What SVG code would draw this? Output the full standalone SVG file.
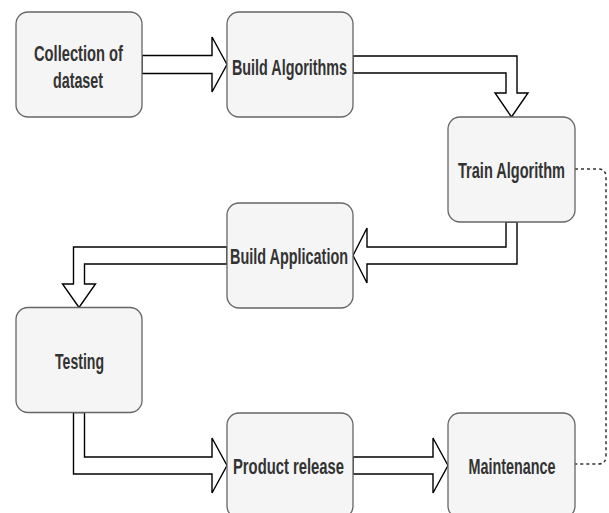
<svg xmlns="http://www.w3.org/2000/svg" width="609" height="513" viewBox="0 0 609 513">
<style>
.box{fill:#f5f5f5;stroke:#666666;stroke-width:1.3}
.lbl{font-family:"Liberation Sans",Arial,sans-serif;font-weight:bold;font-size:22px;fill:#333333;text-anchor:middle}
.arr{fill:#ffffff;stroke:#000000;stroke-width:1.4;stroke-linejoin:miter}
.dash{fill:none;stroke:#333333;stroke-width:1.5;stroke-dasharray:3 3}
</style>
<rect width="609" height="513" fill="#ffffff"/>
<g id="connectors">
<polygon class="arr" points="142,55.5 212,55.5 212,37 227,64.5 212,92 212,73.5 142,73.5"/>
<polygon class="arr" points="353,56 517,56 517,93 528,93 511.5,117 495,93 506,93 506,73 353,73"/>
<polygon class="arr" points="506,222 517,222 517,264 367,264 367,283 353,255.5 367,228 367,247 506,247"/>
<polygon class="arr" points="227,247 73.5,247 73.5,284 62.5,284 79,307.5 95.5,284 84.5,284 84.5,264 227,264"/>
<polygon class="arr" points="73.5,412.5 84.5,412.5 84.5,457 212,457 212,438 227,465.5 212,493 212,474 73.5,474"/>
<polygon class="arr" points="353,457 433,457 433,438 448,465.5 433,493 433,474 353,474"/>
<path class="dash" d="M575,169 H598 Q606,169 606,177 V456 Q606,464 598,464 H575"/>
</g>
<g id="n1"><rect class="box" x="16" y="12" width="126" height="105" rx="12"/>
<text class="lbl" x="78.5" y="61" textLength="89" lengthAdjust="spacingAndGlyphs">Collection of</text>
<text class="lbl" x="78" y="88" textLength="50" lengthAdjust="spacingAndGlyphs">dataset</text></g>
<g id="n2"><rect class="box" x="227" y="12" width="126" height="105" rx="12"/>
<text class="lbl" x="289.5" y="74.5" textLength="115" lengthAdjust="spacingAndGlyphs">Build Algorithms</text></g>
<g id="n3"><rect class="box" x="448" y="117" width="127" height="105" rx="12"/>
<text class="lbl" x="511.5" y="177.5" textLength="107" lengthAdjust="spacingAndGlyphs">Train Algorithm</text></g>
<g id="n4"><rect class="box" x="227" y="203" width="126" height="105" rx="12"/>
<text class="lbl" x="289" y="264" textLength="118" lengthAdjust="spacingAndGlyphs">Build Application</text></g>
<g id="n5"><rect class="box" x="16" y="307.5" width="126" height="105" rx="12"/>
<text class="lbl" x="79.5" y="368.5" textLength="49" lengthAdjust="spacingAndGlyphs">Testing</text></g>
<g id="n6"><rect class="box" x="227" y="413" width="126" height="105" rx="12"/>
<text class="lbl" x="288.5" y="474" textLength="111" lengthAdjust="spacingAndGlyphs">Product release</text></g>
<g id="n7"><rect class="box" x="448" y="413" width="127" height="105" rx="12"/>
<text class="lbl" x="512" y="474" textLength="87" lengthAdjust="spacingAndGlyphs">Maintenance</text></g>
</svg>
